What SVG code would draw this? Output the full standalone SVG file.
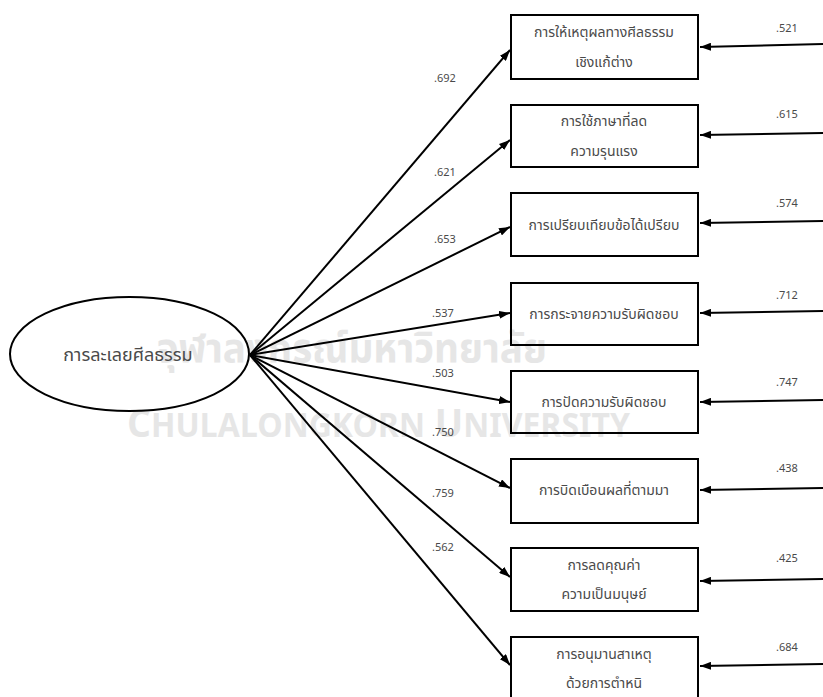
<svg xmlns="http://www.w3.org/2000/svg" width="823" height="697" viewBox="0 0 823 697">
<style>
.box{fill:none;stroke:#000;stroke-width:2}
.lbl{font-family:"Noto Sans Thai","Leelawadee UI",Tahoma,"Noto Sans","DejaVu Sans",sans-serif;font-size:14px;fill:#4a4a4a;text-anchor:middle}
.num{font-family:"Noto Sans","DejaVu Sans",sans-serif;font-size:11px;fill:#4a4a4a;text-anchor:middle}
.ln{stroke:#000;stroke-width:2;fill:none;marker-end:url(#ah)}
.wmt{font-family:"Noto Sans Thai","DejaVu Sans",sans-serif;font-weight:bold;fill:#e6e6e6}
</style>
<defs>
<marker id="ah" markerUnits="userSpaceOnUse" markerWidth="11" markerHeight="8" refX="11" refY="4" orient="auto">
<path d="M0,0 L11,4 L0,8 z" fill="#000"/>
</marker>
</defs>
<rect width="823" height="697" fill="#fff"/>
<g id="watermark">
<text class="wmt" x="352" y="362" font-size="40" text-anchor="middle" textLength="390" lengthAdjust="spacingAndGlyphs">จุฬาลงกรณ์มหาวิทยาลัย</text>
<text class="wmt" x="127" y="437" font-size="40" textLength="503" lengthAdjust="spacingAndGlyphs" font-family="'DejaVu Sans Condensed','DejaVu Sans',sans-serif">C<tspan font-size="34">HULALONGKORN</tspan> U<tspan font-size="34">NIVERSITY</tspan></text>
</g>
<g id="connectors">
<path class="ln" d="M250,355 L510,50"/>
<path class="ln" d="M250,355 L510,140"/>
<path class="ln" d="M250,355 L510,227"/>
<path class="ln" d="M250,355 L510,313"/>
<path class="ln" d="M250,355 L510,402"/>
<path class="ln" d="M250,355 L510,488"/>
<path class="ln" d="M250,355 L510,577"/>
<path class="ln" d="M250,355 L510,665"/>
<path class="ln" d="M823,44 L700,47"/>
<path class="ln" d="M823,133 L700,135"/>
<path class="ln" d="M823,221 L700,223"/>
<path class="ln" d="M823,311 L700,313"/>
<path class="ln" d="M823,400 L700,402"/>
<path class="ln" d="M823,488 L700,490"/>
<path class="ln" d="M823,579 L700,581"/>
<path class="ln" d="M823,664 L700,666"/>
<text class="num" x="445" y="82">.692</text>
<text class="num" x="445" y="176">.621</text>
<text class="num" x="445" y="243">.653</text>
<text class="num" x="443" y="317">.537</text>
<text class="num" x="443" y="377">.503</text>
<text class="num" x="443" y="436">.750</text>
<text class="num" x="443" y="497">.759</text>
<text class="num" x="443" y="551">.562</text>
<text class="num" x="787" y="32">.521</text>
<text class="num" x="787" y="118">.615</text>
<text class="num" x="787" y="207">.574</text>
<text class="num" x="787" y="299">.712</text>
<text class="num" x="787" y="386">.747</text>
<text class="num" x="787" y="472">.438</text>
<text class="num" x="787" y="562">.425</text>
<text class="num" x="787" y="651">.684</text>
</g>
<g id="latent">
<ellipse cx="129.5" cy="354" rx="119.5" ry="57" fill="none" stroke="#000" stroke-width="2"/>
<text class="lbl" x="128" y="361" style="font-size:18px">การละเลยศีลธรรม</text>
</g>
<g id="n1"><rect class="box" x="511" y="15" width="187" height="64"/><text class="lbl" x="604" y="37">การให้เหตุผลทางศีลธรรม</text><text class="lbl" x="604" y="67">เชิงแก้ต่าง</text></g>
<g id="n2"><rect class="box" x="511" y="105" width="187" height="62"/><text class="lbl" x="604" y="126">การใช้ภาษาที่ลด</text><text class="lbl" x="604" y="156">ความรุนแรง</text></g>
<g id="n3"><rect class="box" x="511" y="193" width="187" height="63"/><text class="lbl" x="604" y="230">การเปรียบเทียบข้อได้เปรียบ</text></g>
<g id="n4"><rect class="box" x="511" y="283" width="187" height="62"/><text class="lbl" x="604" y="319">การกระจายความรับผิดชอบ</text></g>
<g id="n5"><rect class="box" x="511" y="371" width="187" height="62"/><text class="lbl" x="604" y="407">การปัดความรับผิดชอบ</text></g>
<g id="n6"><rect class="box" x="511" y="459" width="187" height="64"/><text class="lbl" x="604" y="495">การบิดเบือนผลที่ตามมา</text></g>
<g id="n7"><rect class="box" x="511" y="548" width="187" height="63"/><text class="lbl" x="604" y="570">การลดคุณค่า</text><text class="lbl" x="604" y="599">ความเป็นมนุษย์</text></g>
<g id="n8"><rect class="box" x="511" y="637" width="187" height="70"/><text class="lbl" x="604" y="659">การอนุมานสาเหตุ</text><text class="lbl" x="604" y="688">ด้วยการตำหนิ</text></g>
</svg>
